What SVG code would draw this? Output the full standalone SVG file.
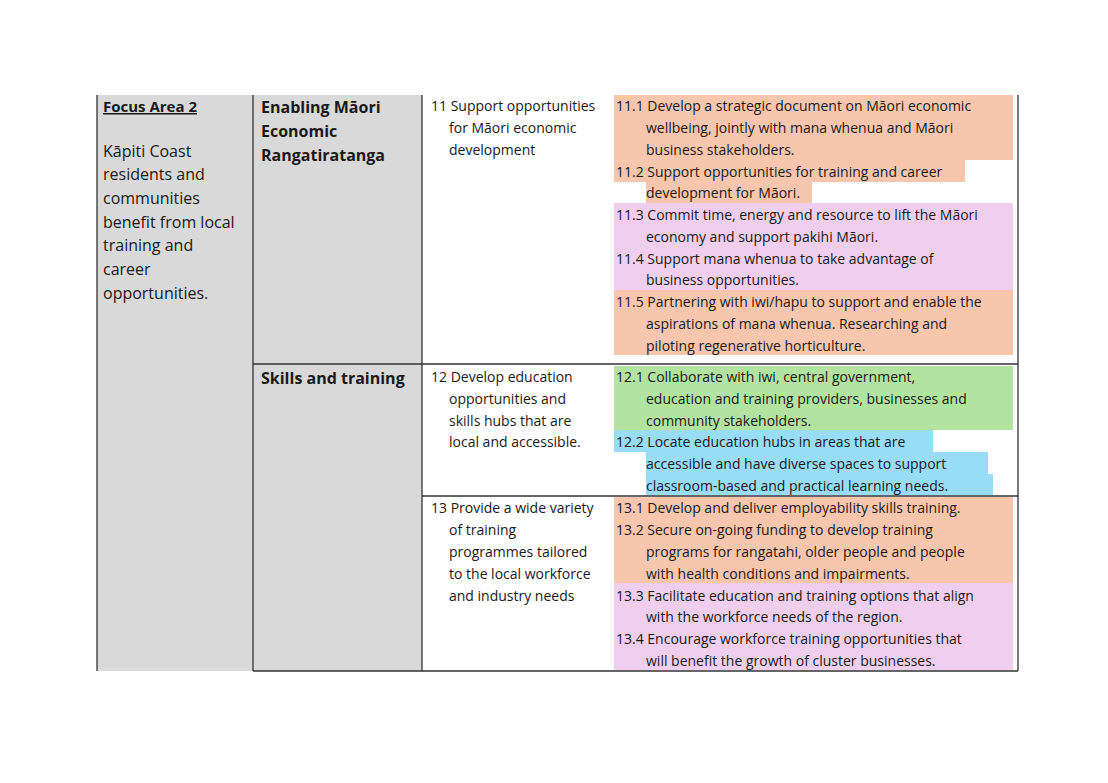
<svg xmlns="http://www.w3.org/2000/svg" width="1108" height="783" viewBox="0 0 1108 783">
<style>
text{font-family:"Open Sans","Liberation Sans",sans-serif;fill:#1a1a1a}
.s{font-size:14px}
.m{font-size:16px}
.b{font-weight:bold}
.ln{stroke:#333;stroke-width:1.3;fill:none}
.or{fill:#f8c6ad}.pk{fill:#f0cfee}.gr{fill:#b3e3a0}.bl{fill:#99dcf5}
</style>
<rect width="1108" height="783" fill="#fff"/>
<g id="cells">
<rect x="97" y="95" width="156" height="576" fill="#d9d9d9"/>
<rect x="253" y="95" width="169" height="576" fill="#d9d9d9"/>
</g>
<g id="highlights">
<rect class="or" x="614" y="95" width="399" height="65"/>
<rect class="or" x="614" y="160" width="351" height="22"/>
<rect class="or" x="646" y="182" width="166" height="21"/>
<rect class="pk" x="614" y="203" width="399" height="87"/>
<rect class="or" x="614" y="290" width="399" height="65"/>
<rect class="gr" x="614" y="366" width="399" height="64"/>
<rect class="bl" x="614" y="430" width="319" height="22"/>
<rect class="bl" x="646" y="452" width="342" height="22"/>
<rect class="bl" x="646" y="474" width="347" height="21"/>
<rect class="or" x="614" y="497" width="399" height="86"/>
<rect class="pk" x="614" y="583" width="399" height="87"/>
</g>
<g id="connectors">
<path class="ln" d="M97 95V671M253 95V671M422 95V671M1018 95V671M253 364H1018M422 496H1018M253 671H1018"/>
</g>
<g id="col1">
<text class="m b" x="103" y="112" style="font-size:15px" text-decoration="underline">Focus Area 2</text>
<text class="m" x="103" y="157">Kāpiti Coast</text>
<text class="m" x="103" y="180">residents and</text>
<text class="m" x="103" y="204">communities</text>
<text class="m" x="103" y="228">benefit from local</text>
<text class="m" x="103" y="251">training and</text>
<text class="m" x="103" y="275">career</text>
<text class="m" x="103" y="299">opportunities.</text>
</g>
<g id="col2">
<text class="m b" x="261" y="113">Enabling Māori</text>
<text class="m b" x="261" y="137">Economic</text>
<text class="m b" x="261" y="161">Rangatiratanga</text>
<text class="m b" x="261" y="384">Skills and training</text>
</g>
<g id="col3">
<text class="s" x="431" y="111">11 Support opportunities</text>
<text class="s" x="449" y="133">for Māori economic</text>
<text class="s" x="449" y="155">development</text>
<text class="s" x="431" y="382">12 Develop education</text>
<text class="s" x="449" y="404">opportunities and</text>
<text class="s" x="449" y="426">skills hubs that are</text>
<text class="s" x="449" y="447">local and accessible.</text>
<text class="s" x="431" y="513">13 Provide a wide variety</text>
<text class="s" x="449" y="535">of training</text>
<text class="s" x="449" y="557">programmes tailored</text>
<text class="s" x="449" y="579">to the local workforce</text>
<text class="s" x="449" y="601">and industry needs</text>
</g>
<g id="col4">
<text class="s" x="616" y="111">11.1 Develop a strategic document on Māori economic</text>
<text class="s" x="646" y="133">wellbeing, jointly with mana whenua and Māori</text>
<text class="s" x="646" y="155">business stakeholders.</text>
<text class="s" x="616" y="177">11.2 Support opportunities for training and career</text>
<text class="s" x="646" y="198">development for Māori.</text>
<text class="s" x="616" y="220">11.3 Commit time, energy and resource to lift the Māori</text>
<text class="s" x="646" y="242">economy and support pakihi Māori.</text>
<text class="s" x="616" y="264">11.4 Support mana whenua to take advantage of</text>
<text class="s" x="646" y="285">business opportunities.</text>
<text class="s" x="616" y="307">11.5 Partnering with iwi/hapu to support and enable the</text>
<text class="s" x="646" y="329">aspirations of mana whenua. Researching and</text>
<text class="s" x="646" y="351">piloting regenerative horticulture.</text>
<text class="s" x="616" y="382">12.1 Collaborate with iwi, central government,</text>
<text class="s" x="646" y="404">education and training providers, businesses and</text>
<text class="s" x="646" y="426">community stakeholders.</text>
<text class="s" x="616" y="447">12.2 Locate education hubs in areas that are</text>
<text class="s" x="646" y="469">accessible and have diverse spaces to support</text>
<text class="s" x="646" y="491">classroom-based and practical learning needs.</text>
<text class="s" x="616" y="513">13.1 Develop and deliver employability skills training.</text>
<text class="s" x="616" y="535">13.2 Secure on-going funding to develop training</text>
<text class="s" x="646" y="557">programs for rangatahi, older people and people</text>
<text class="s" x="646" y="579">with health conditions and impairments.</text>
<text class="s" x="616" y="601">13.3 Facilitate education and training options that align</text>
<text class="s" x="646" y="622">with the workforce needs of the region.</text>
<text class="s" x="616" y="644">13.4 Encourage workforce training opportunities that</text>
<text class="s" x="646" y="666">will benefit the growth of cluster businesses.</text>
</g>
</svg>
